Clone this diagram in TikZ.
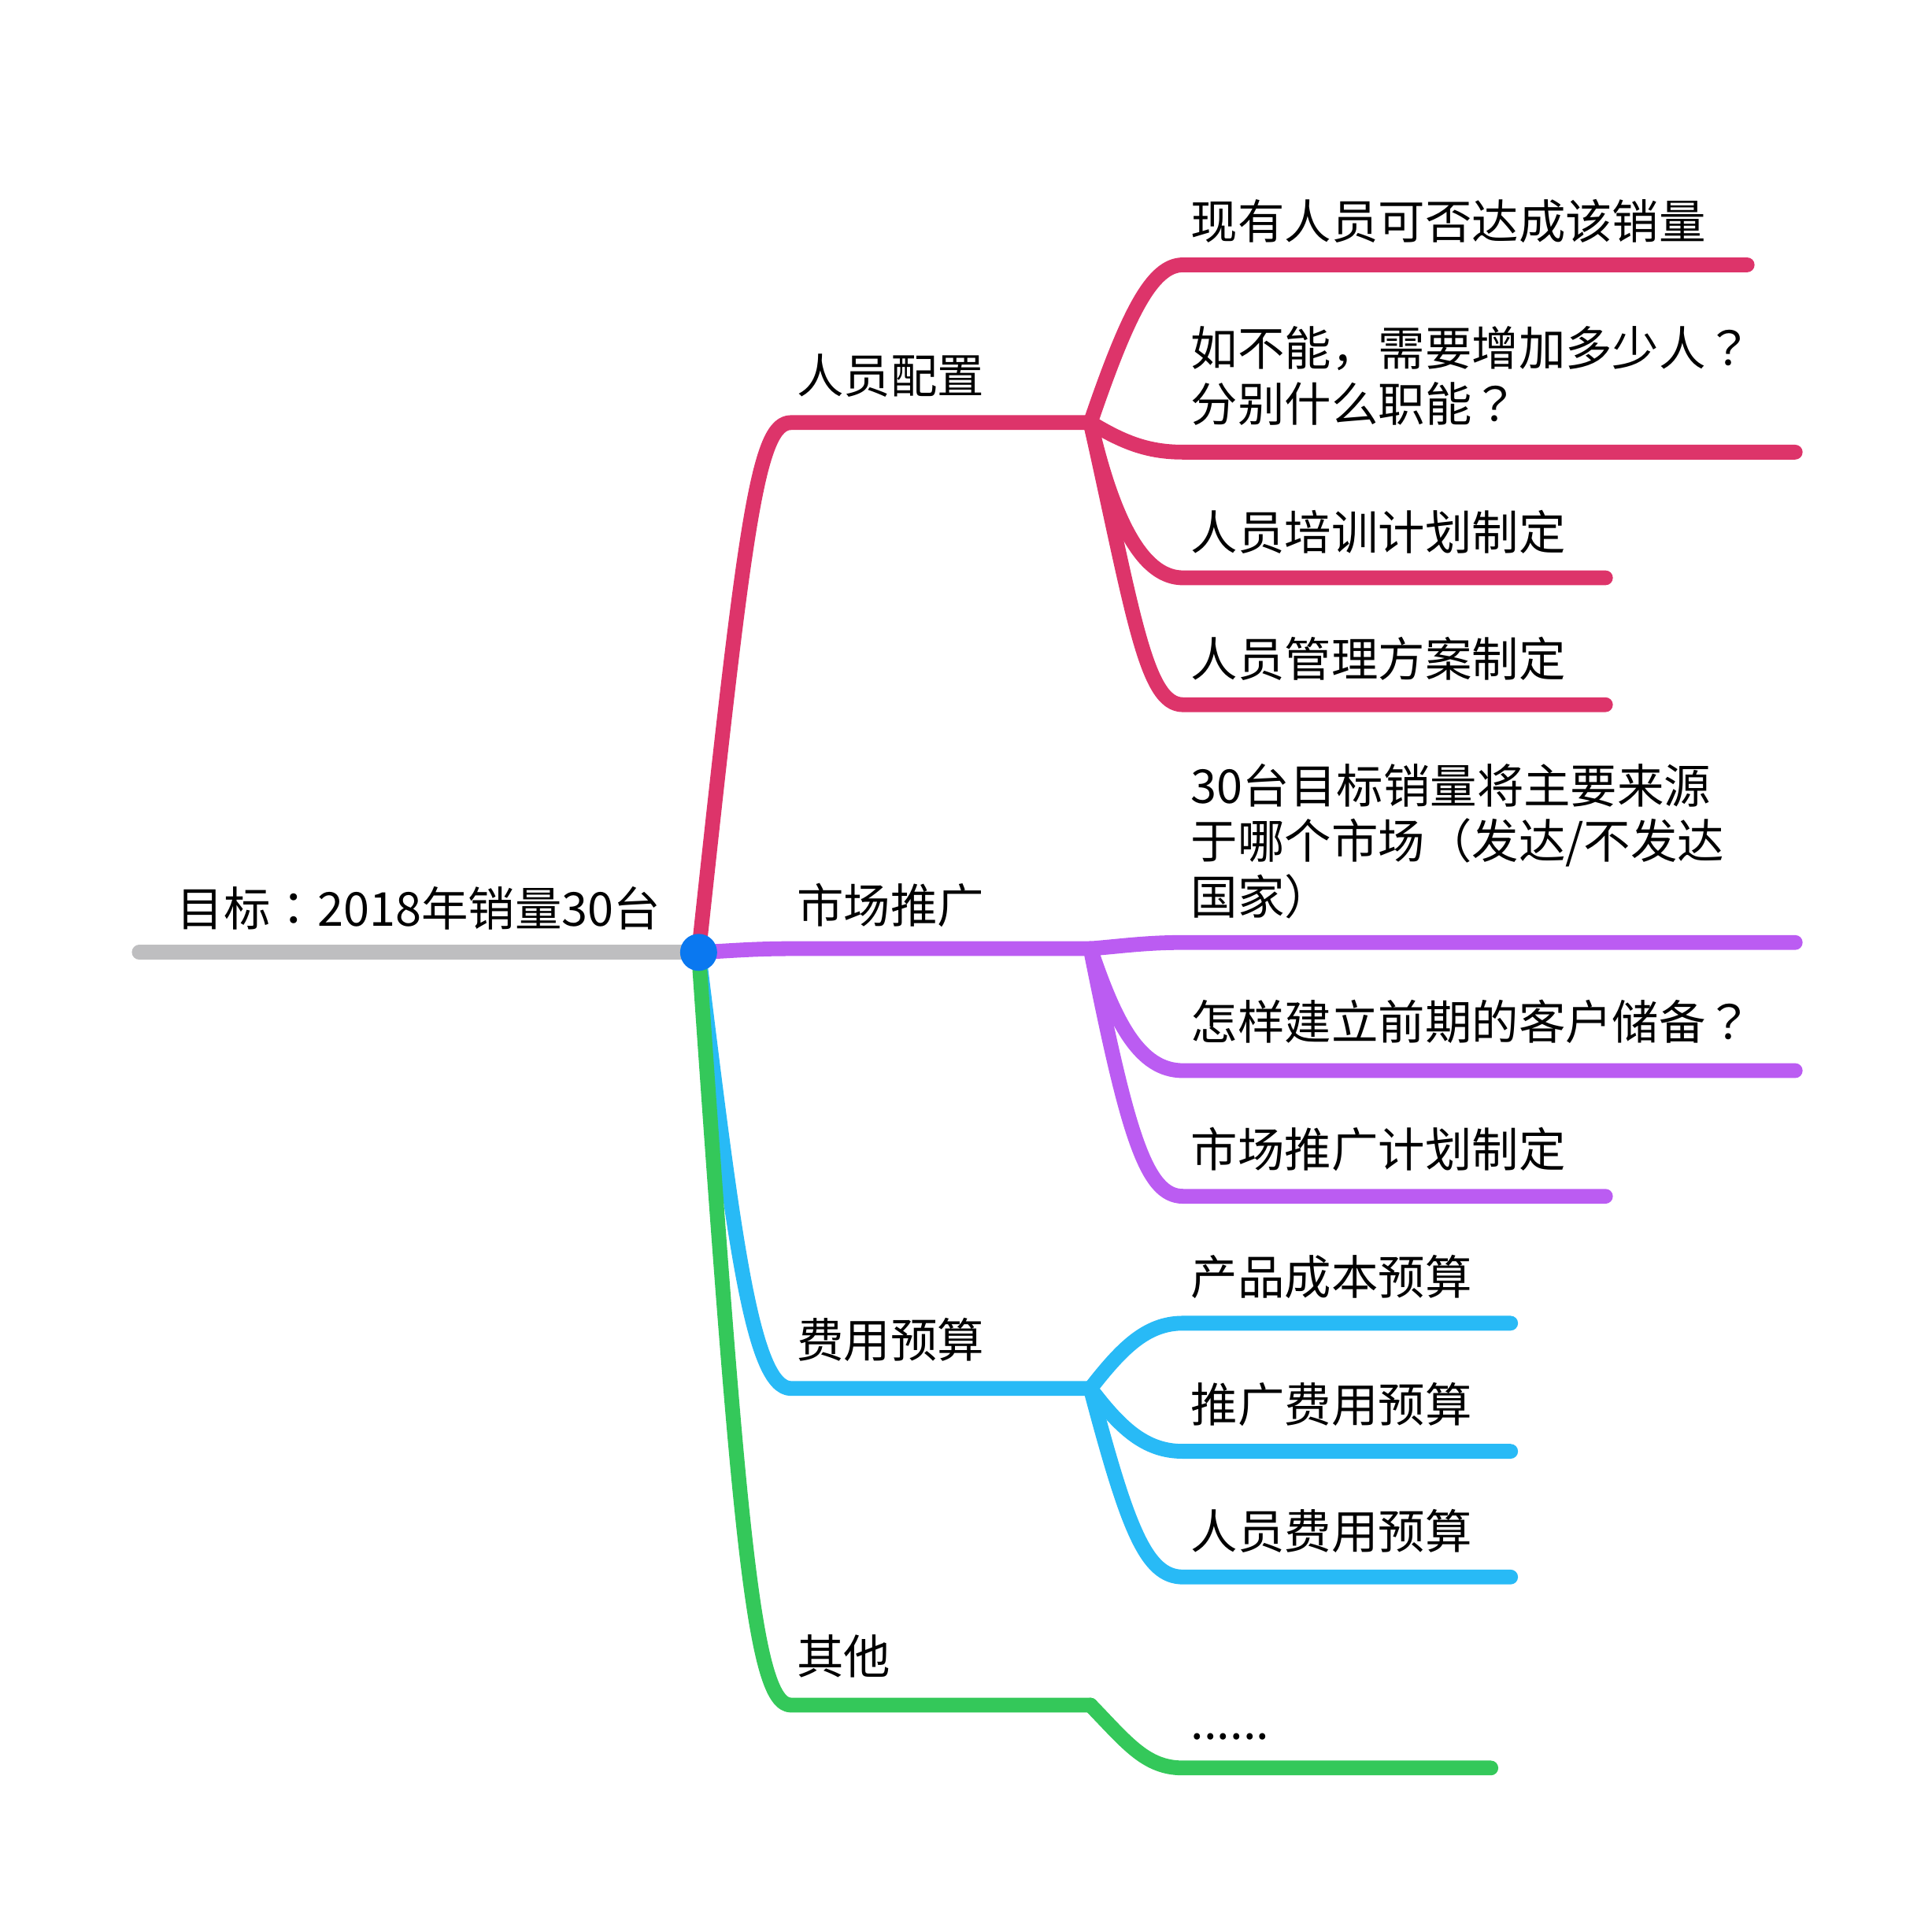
\documentclass[tikz,border=0pt]{standalone}
\usepackage{fontspec}
\setmainfont{Noto Sans CJK SC}
\newfontfamily\jpfont{Noto Sans CJK JP}
\newcommand{\qmark}{{\jpfont ？}}
\newcommand{\colonmark}{{\jpfont ：}}
\tikzset{every node/.style={font=\fontsize{10.8}{12.8}\selectfont}}

\begin{document}
\begin{tikzpicture}[x=0.01cm, y=-0.01cm,
    branch/.style={line width=0.12cm, line cap=round, line join=round},
    lbl/.style={anchor=base west, inner sep=0pt, align=left}]
  % Colors of the branches.
  \definecolor{rootcol}{RGB}{190,190,192}
  \definecolor{dotcol}{RGB}{10,120,240}
  \definecolor{staffcol}{RGB}{221,52,106}
  \definecolor{marketcol}{RGB}{187,92,242}
  \definecolor{budgetcol}{RGB}{40,186,246}
  \definecolor{othercol}{RGB}{52,200,90}

  \useasboundingbox (0,0) rectangle (1568,1549);

  % Root.
  \coordinate (root) at (567,773);
  \coordinate (rootend) at (113,773);
  \node[lbl] (goal) at (143,752) {目标\colonmark 2018年销量30台};

  % Main topics.
  \node[lbl] (staff) at (646,319) {人员配置};
  \node[lbl] (market) at (646,749) {市场推广};
  \node[lbl] (budget) at (646,1102) {费用预算};
  \node[lbl] (other) at (646,1359) {其他};

  \coordinate (staffJ) at (885,343);
  \coordinate (marketJ) at (885,770);
  \coordinate (budgetJ) at (885,1127);
  \coordinate (otherJ) at (885,1384);

  % Sub topics (multi-line labels sit on their last line).
  \node[lbl] (s1) at (966,194) {现有人员可否达成该销量};
  \node[lbl] (s2) at (966,342) {如不能，需要增加多少人\qmark\\分别什么职能\qmark};
  \node[lbl] (s3) at (966,446) {人员培训计划制定};
  \node[lbl] (s4) at (966,549) {人员管理方案制定};
  \node[lbl] (m1) at (966,742) {30台目标销量将主要来源\\于哪个市场（发达/不发达\\国家）};
  \node[lbl] (m2) at (966,844) {怎样建立前期的客户储备\qmark};
  \node[lbl] (m3) at (966,947) {市场推广计划制定};
  \node[lbl] (b1) at (966,1051) {产品成本预算};
  \node[lbl] (b2) at (966,1154) {推广费用预算};
  \node[lbl] (b3) at (966,1257) {人员费用预算};
  \node[lbl] (o1) at (966,1412) {......};

  % Ends of the underlines.
  \coordinate (s1e) at (1418,215);
  \coordinate (s2e) at (1457,367);
  \coordinate (s3e) at (1303,469);
  \coordinate (s4e) at (1303,572);
  \coordinate (m1e) at (1457,765);
  \coordinate (m2e) at (1457,869);
  \coordinate (m3e) at (1303,971);
  \coordinate (b1e) at (1226,1074);
  \coordinate (b2e) at (1226,1178);
  \coordinate (b3e) at (1226,1280);
  \coordinate (o1e) at (1210,1435);

  % Root line.
  \draw[branch, rootcol] (rootend) -- (root);

  % Staff branch.
  \draw[branch, staffcol] (root) .. controls (605,420) and (615,343) .. (642,343) -- (staffJ);
  \draw[branch, staffcol] (staffJ) .. controls (915,255) and (935,215) .. (960,215) -- (s1e);
  \draw[branch, staffcol] (staffJ) .. controls (910,358) and (930,367) .. (960,367) -- (s2e);
  \draw[branch, staffcol] (staffJ) .. controls (905,430) and (930,469) .. (960,469) -- (s3e);
  \draw[branch, staffcol] (staffJ) .. controls (920,500) and (930,572) .. (960,572) -- (s4e);

  % Market branch.
  \draw[branch, marketcol] (root) .. controls (590,772) and (610,770) .. (642,770) -- (marketJ);
  \draw[branch, marketcol] (marketJ) .. controls (910,768) and (930,765) .. (960,765) -- (m1e);
  \draw[branch, marketcol] (marketJ) .. controls (905,830) and (925,869) .. (960,869) -- (m2e);
  \draw[branch, marketcol] (marketJ) .. controls (915,920) and (930,971) .. (960,971) -- (m3e);

  % Budget branch.
  \draw[branch, budgetcol] (root) .. controls (595,1000) and (610,1127) .. (642,1127) -- (budgetJ);
  \draw[branch, budgetcol] (budgetJ) .. controls (910,1095) and (930,1074) .. (960,1074) -- (b1e);
  \draw[branch, budgetcol] (budgetJ) .. controls (910,1160) and (930,1178) .. (960,1178) -- (b2e);
  \draw[branch, budgetcol] (budgetJ) .. controls (915,1240) and (930,1280) .. (960,1280) -- (b3e);

  % Other branch.
  \draw[branch, othercol] (root) .. controls (600,1250) and (612,1384) .. (642,1384) -- (otherJ);
  \draw[branch, othercol] (otherJ) .. controls (915,1415) and (930,1435) .. (960,1435) -- (o1e);

  % Center dot.
  \fill[dotcol] (root) circle (0.15cm);
\end{tikzpicture}
\end{document}
